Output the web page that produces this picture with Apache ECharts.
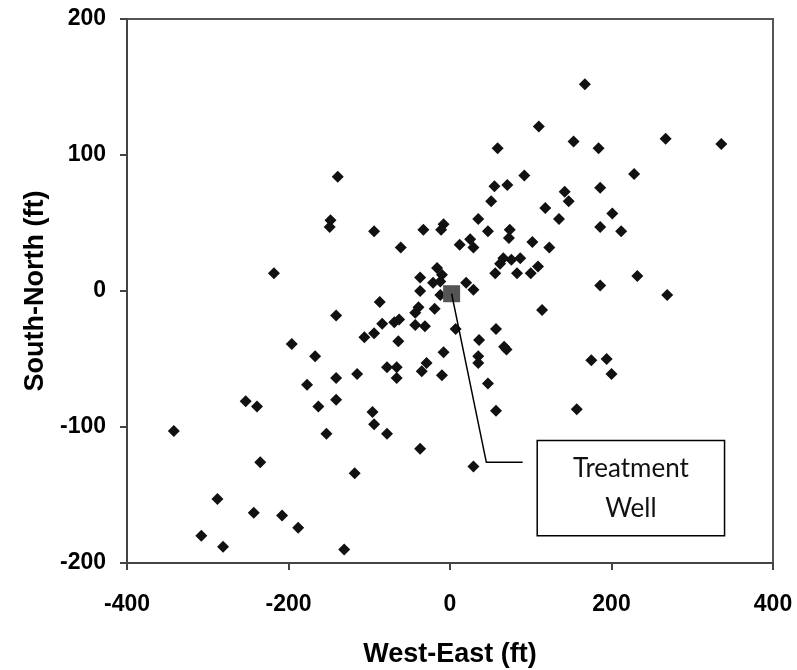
<!DOCTYPE html>
<html>
<head>
<meta charset="utf-8">
<script src="https://cdn.jsdelivr.net/npm/echarts@6/dist/echarts.min.js"></script>
<style>
html,body{margin:0;padding:0;background:#fff;}
#chart{width:797px;height:670px;}
</style>
</head>
<body>
<div id="chart"></div>
<script>
// West-East (ft) coordinates of monitoring points
const westEast = [
  -139,-148,-149,-94,-33,-8,-11,-61,12,-218,-37,-16,-10,-21,-12,-37,-12,-87,
  167,110,59,153,184,267,336,228,92,55,71,186,51,142,147,118,135,201,186,212,
  35,47,74,73,102,123,25,29,66,62,76,87,56,83,100,109,186,232,269,20,29,
  -141,-39,-43,-19,-84,-69,-63,-43,-31,7,-106,-94,-64,-196,-167,-8,-78,-66,-66,
  -115,-141,-29,-35,-10,-177,-141,-163,-253,-239,-96,-94,-78,-153,-342,-37,-235,
  -118,-288,-243,-208,-188,-308,-281,-131,
  114,57,36,67,70,35,35,175,194,200,47,57,157,29
];
// South-North (ft) coordinates of monitoring points
const southNorth = [
  84,52,47,44,45,49,45,32,34,13,10,17,12,6,7,0,-3,-8,
  152,121,105,110,105,112,108,86,85,77,78,76,66,73,66,61,53,57,47,44,
  53,44,45,39,36,32,38,32,24,20,23,24,13,13,13,18,4,11,-3,6,1,
  -18,-12,-16,-13,-24,-23,-21,-25,-26,-28,-34,-31,-37,-39,-48,-45,-56,-56,-64,
  -61,-64,-53,-59,-62,-69,-80,-85,-81,-85,-89,-98,-105,-105,-103,-116,-126,
  -134,-153,-163,-165,-174,-180,-188,-190,
  -14,-28,-36,-41,-43,-48,-53,-51,-50,-61,-68,-88,-87,-129
];
const wellX = [2];
const wellY = [-2];
const xTicks = {min: -400, max: 400, interval: 200};
const yTicks = {min: -200, max: 200, interval: 100};
const annotationText = ['Treatment', 'Well'];
// annotation anchor positions in data units
const calloutElbow = [45, -126];
const calloutEnd = [90, -126];
const boxCorner1 = [108, -110];
const boxCorner2 = [340, -180];

const points = westEast.map((x, i) => [x, southNorth[i]]);
const wellPts = wellX.map((x, i) => [x, wellY[i]]);

const chart = echarts.init(document.getElementById('chart'), null, {renderer: 'canvas'});
const font = '"Liberation Sans", Arial, sans-serif';
const axisColor = '#444';

chart.setOption({
  animation: false,
  backgroundColor: '#fff',
  grid: {left: 127, right: 24, top: 19, bottom: 107, outerBoundsMode: 'none', containLabel: false,
         show: true, borderColor: '#555', borderWidth: 2, backgroundColor: 'transparent'},
  xAxis: {
    type: 'value', min: xTicks.min, max: xTicks.max, interval: xTicks.interval,
    axisLine: {show: true, onZero: false, lineStyle: {color: axisColor, width: 2}},
    axisTick: {show: true, inside: false, length: 7, lineStyle: {color: axisColor, width: 2}},
    splitLine: {show: false},
    axisLabel: {fontFamily: font, fontWeight: 'bold', fontSize: 23, color: '#000', margin: 30},
    name: 'West-East (ft)', nameLocation: 'middle', nameGap: 78,
    nameTextStyle: {fontFamily: font, fontWeight: 'bold', fontSize: 27, color: '#000'}
  },
  yAxis: {
    type: 'value', min: yTicks.min, max: yTicks.max, interval: yTicks.interval,
    axisLine: {show: true, onZero: false, lineStyle: {color: axisColor, width: 2}},
    axisTick: {show: true, inside: false, length: 7, lineStyle: {color: axisColor, width: 2}},
    splitLine: {show: false},
    axisLabel: {fontFamily: font, fontWeight: 'bold', fontSize: 23, color: '#000', margin: 21},
    name: 'South-North (ft)', nameLocation: 'middle', nameGap: 76, nameRotate: 90,
    nameTextStyle: {fontFamily: font, fontWeight: 'bold', fontSize: 27, color: '#000'}
  },
  series: [
    {type: 'scatter', data: points, symbol: 'diamond', symbolSize: 12,
     itemStyle: {color: '#111', opacity: 1}, z: 2},
    {type: 'scatter', data: wellPts, symbol: 'rect', symbolSize: 17,
     itemStyle: {color: '#555', opacity: 1}, z: 3}
  ]
});

const px = p => chart.convertToPixel({gridIndex: 0}, p);
const w = px(wellPts[0]);
const e = px(calloutElbow);
const en = px(calloutEnd);
const b1 = px(boxCorner1);
const b2 = px(boxCorner2);
const bx = Math.min(b1[0], b2[0]), by = Math.min(b1[1], b2[1]);
const bw = Math.abs(b2[0] - b1[0]), bh = Math.abs(b2[1] - b1[1]);

chart.setOption({
  graphic: [
    {type: 'polyline', z: 10, shape: {points: [w, e, en]}, style: {stroke: '#000', lineWidth: 1.5, fill: null}},
    {type: 'rect', z: 10, shape: {x: bx, y: by, width: bw, height: bh}, style: {stroke: '#000', lineWidth: 1.5, fill: '#fff'}},
    {type: 'text', z: 11, x: bx + bw / 2, y: by + bh / 2,
     style: {text: annotationText.join('\n'), fontFamily: 'Lato, "Open Sans", sans-serif', fontSize: 26, lineHeight: 40,
             fill: '#111', align: 'center', verticalAlign: 'middle'}}
  ]
});
</script>
</body>
</html>
